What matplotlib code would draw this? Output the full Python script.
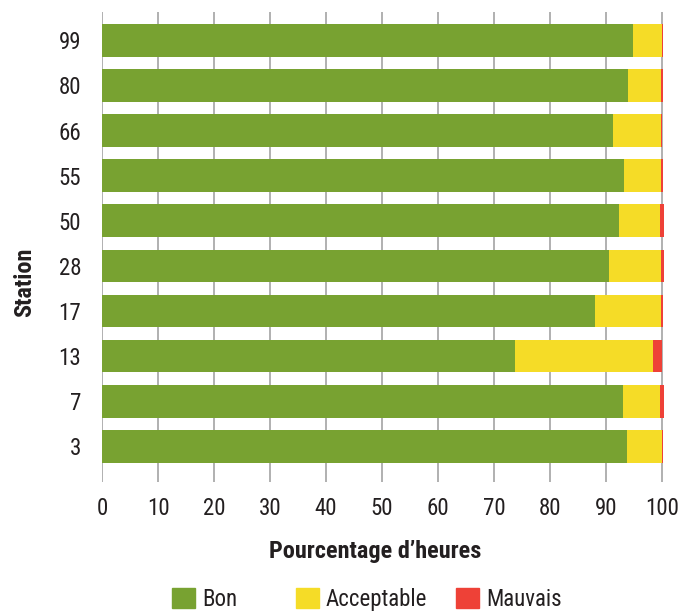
import matplotlib
matplotlib.use("Agg")
import matplotlib.pyplot as plt
from matplotlib.patches import Patch
import numpy as np

stations = ["3", "7", "13", "17", "28", "50", "55", "66", "80", "99"]
bon = [93.8, 93.0, 73.8, 88.0, 90.5, 92.3, 93.2, 91.2, 93.9, 94.8]
acceptable = [6.2, 6.6, 24.5, 11.8, 9.3, 7.3, 6.6, 8.5, 5.9, 5.1]
mauvais = [0.2, 0.7, 1.7, 0.3, 0.5, 0.7, 0.3, 0.3, 0.3, 0.3]
categories = ["Bon", "Acceptable", "Mauvais"]

GREEN = "#78a231"
YELLOW = "#f5dc27"
RED = "#ee4137"
TXT = "#231f20"
plt.rcParams["font.family"] = ["Roboto Condensed", "Liberation Sans", "DejaVu Sans"]

fig = plt.figure(figsize=(6.92, 6.14), dpi=100)
ax = fig.add_axes([0.1474, 0.2155, 0.8136, 0.765])

y = np.arange(len(stations))
left = np.zeros(len(stations))
for vals, col, lab in zip([bon, acceptable, mauvais], [GREEN, YELLOW, RED], categories):
    ax.barh(y, vals, left=left, height=0.725, color=col, label=lab, zorder=2)
    left = left + np.array(vals)

ax.set_xlim(0, 100.5)
ax.set_ylim(-0.785, 9.63)
ax.set_xticks(range(0, 101, 10))
ax.set_yticks(y)
ax.set_yticklabels(stations)
ax.tick_params(axis="both", length=0, labelsize=16.5, colors=TXT)
ax.tick_params(axis="x", pad=11)
ax.tick_params(axis="y", pad=15)
ax.grid(axis="x", color="#a3a3a3", lw=1.2, zorder=0)
ax.set_axisbelow(True)
for s in ax.spines.values():
    s.set_visible(False)

ax.set_xlabel("Pourcentage d\u2019heures", fontsize=17.5, fontweight="bold", color=TXT)
ax.xaxis.set_label_coords(0.485, -0.125)
fig.text(0.036, 0.54, "Station", rotation=90, ha="center", va="center",
         fontsize=17.5, fontweight="bold", color=TXT)

# legend entries placed one by one (fixed-width columns, as in the original)
for lab, col, x0 in zip(categories, [GREEN, YELLOW, RED], [172, 296, 456]):
    fig.legend(handles=[Patch(color=col, label=lab)], loc="center left",
               bbox_to_anchor=(x0 / 692, 0.024), frameon=False, fontsize=16.5,
               handlelength=1.0, handleheight=1.0, handletextpad=0.3,
               borderpad=0, borderaxespad=0, labelcolor=TXT)

fig.savefig("out.png", dpi=100)
